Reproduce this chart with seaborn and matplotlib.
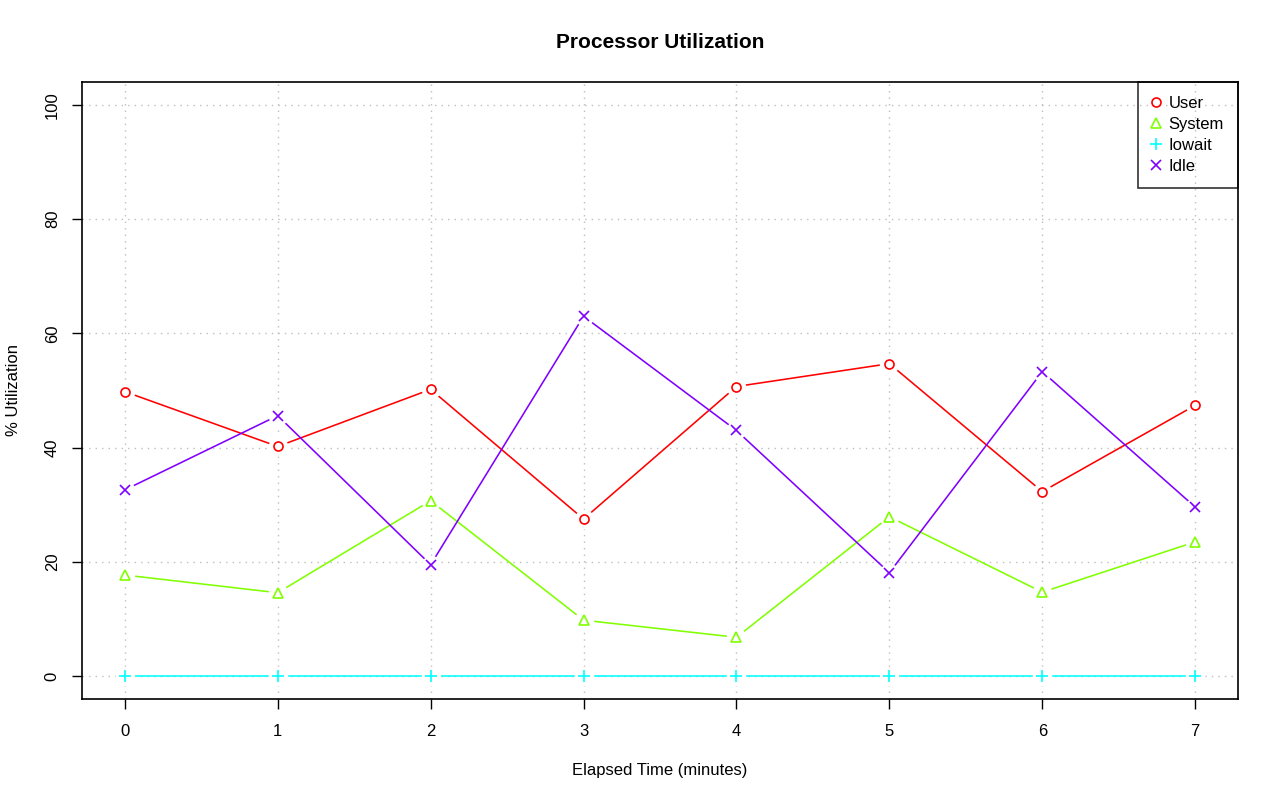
import matplotlib
matplotlib.use("Agg")
import matplotlib.pyplot as plt
import seaborn as sns
import pandas as pd
import numpy as np

minutes = [0, 1, 2, 3, 4, 5, 6, 7]
user = [49.8, 40.2, 50.2, 27.5, 50.7, 54.7, 32.3, 47.4]
system = [17.7, 14.6, 30.7, 9.8, 6.8, 27.9, 14.7, 23.5]
iowait = [0, 0, 0, 0, 0, 0, 0, 0]
idle = [32.6, 45.6, 19.5, 63.0, 43.0, 18.1, 53.3, 29.6]
series_names = ["User", "System", "Iowait", "Idle"]
series_values = [user, system, iowait, idle]
x_ticks = [0, 1, 2, 3, 4, 5, 6, 7]
y_ticks = [0, 20, 40, 60, 80, 100]

colors = {"User": "#FF0000", "System": "#80FF00", "Iowait": "#00FFFF", "Idle": "#8000FF"}
markers = {"User": "o", "System": "^", "Iowait": "+", "Idle": "x"}

df = pd.concat([pd.DataFrame({"minute": minutes, "value": v, "series": n})
                for n, v in zip(series_names, series_values)], ignore_index=True)

sns.set_style("white")
plt.rcParams["font.family"] = ["Liberation Sans", "DejaVu Sans"]
plt.rcParams["text.color"] = "black"
plt.rcParams["xtick.color"] = "black"
plt.rcParams["ytick.color"] = "black"

fig = plt.figure(figsize=(12.8, 8.01), dpi=100)
ax = fig.add_axes([82/1280, 1-699/801, (1238-82)/1280, (699-82)/801])

grid_color = "#BEBEBE"
for xv in x_ticks:
    ax.axvline(xv, color=grid_color, lw=1, ls=(0, (1, 3.7)), zorder=1)
for yv in y_ticks:
    ax.axhline(yv, color=grid_color, lw=1, ls=(0, (1, 3.7)), zorder=1)

sns.lineplot(data=df, x="minute", y="value", hue="series", hue_order=series_names,
             palette=colors, ax=ax, lw=1.15, legend=False, zorder=2, sort=False,
             estimator=None)

for name in series_names:
    sub = df[df["series"] == name]
    ax.plot(sub["minute"], sub["value"], ls="none", marker="o", ms=13,
            mfc="white", mec="white", zorder=3)
for name in series_names:
    sub = df[df["series"] == name]
    ax.plot(sub["minute"], sub["value"], ls="none", marker=markers[name],
            ms=6.5 if name != "Iowait" else 8, mfc="none", mec=colors[name],
            mew=1.2, zorder=4, label=name)

ax.set_xlim(-0.28, 7.28)
ax.set_ylim(-4, 104)
ax.set_xticks(x_ticks)
ax.set_yticks(y_ticks)
ax.tick_params(axis="both", direction="out", length=7, width=1, colors="black",
               labelsize=12, left=True, bottom=True)
ax.tick_params(axis="x", pad=11)
ax.tick_params(axis="y", pad=9)
for lab in ax.get_yticklabels():
    lab.set_rotation(90)
    lab.set_va("center")
for sp in ax.spines.values():
    sp.set_visible(True)
    sp.set_color("black")
    sp.set_linewidth(1.2)

ax.set_xlabel("")
ax.set_ylabel("")
fig.text((82+1238)/2/1280, 1-42/801, "Processor Utilization", ha="center", va="center",
         fontsize=15, fontweight="bold")
fig.text((82+1238)/2/1280, 1-770/801, "Elapsed Time (minutes)", ha="center", va="center",
         fontsize=12)
fig.text(14/1280, 1-390/801, "% Utilization", ha="center", va="center",
         fontsize=12, rotation=90)

leg = ax.legend(loc="upper right", borderaxespad=0, frameon=True, fancybox=False,
                fontsize=12, handlelength=0.5, handletextpad=0.5,
                labelspacing=0.35, borderpad=0.85)
leg.get_frame().set_edgecolor("black")
leg.get_frame().set_facecolor("none")
leg.get_frame().set_linewidth(1.2)

fig.savefig("out.png", dpi=100)
